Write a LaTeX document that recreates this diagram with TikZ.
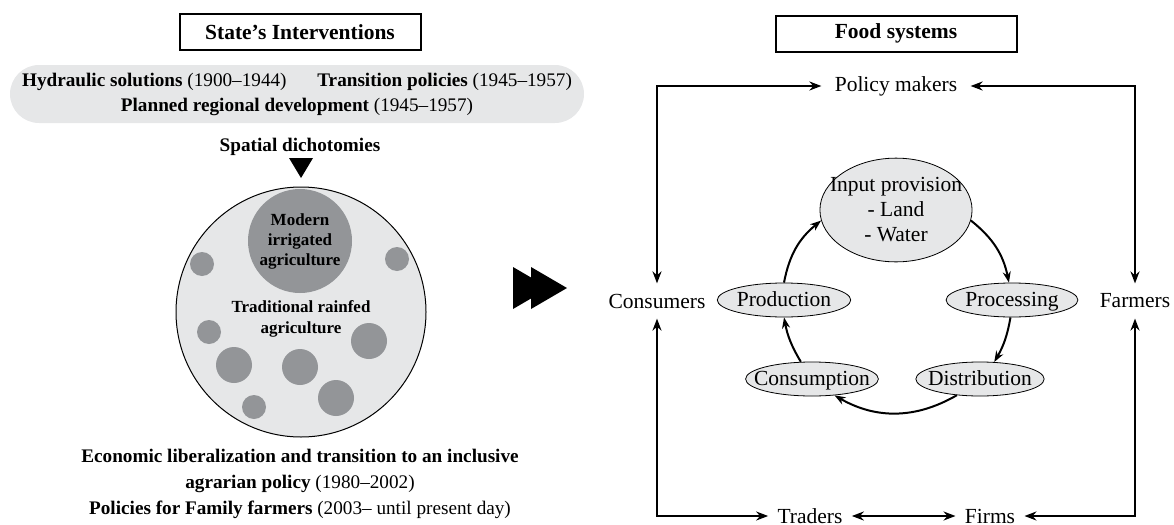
\documentclass[tikz,border=0pt]{standalone}
\usepackage{fontspec}
\setmainfont{Liberation Serif}
\usetikzlibrary{arrows.meta}
\usetikzlibrary{shapes.geometric}
\definecolor{paleg}{HTML}{E6E7E8}
\definecolor{midg}{HTML}{939598}

\begin{document}
\begin{tikzpicture}[x=0.5pt,y=-0.5pt,
  header/.style={draw, line width=1pt, minimum width=120.5pt, minimum height=18pt, inner sep=0pt, font=\bfseries\fontsize{10.75}{13}\selectfont},
  era/.style={fill=paleg, rounded corners=14.5pt, minimum width=287pt, minimum height=29pt, inner sep=0pt, align=center, font=\fontsize{9.6}{12.5}\selectfont},
  patch/.style={circle, fill=midg, inner sep=0pt, align=center, font=\bfseries\fontsize{8.5}{10}\selectfont},
  actor/.style={inner sep=4.5pt, font=\fontsize{10.75}{12.5}\selectfont},
  stage/.style={ellipse, draw, fill=paleg, line width=0.4pt, inner sep=0pt, minimum height=17pt, font=\fontsize{10.75}{12.5}\selectfont},
  oneline/.style={text height=7.3pt, text depth=1.3pt},
  link/.style={line width=1pt, {Stealth[length=6pt,width=4.5pt]}-{Stealth[length=6pt,width=4.5pt]}},
  flow/.style={line width=1pt, -{Stealth[length=5.5pt,width=4pt]}}]
\useasboundingbox (0,0) rectangle (1174,525);

% state's interventions
\node[header] (state) at (300,32) {State's Interventions};
\node[era] (eras) at (297,94) {\textbf{Hydraulic solutions} (1900--1944)\hspace{1.6em}\textbf{Transition policies} (1945--1957)\\
  \textbf{Planned regional development} (1945--1957)};
\node[font=\bfseries\fontsize{9.6}{12}\selectfont] (dich) at (300,147) {Spatial dichotomies};
\fill (289,158) -- (313,158) -- (301,178) -- cycle;
\node[circle, draw, fill=paleg, line width=0.5pt, minimum size=125pt] (land) at (301,312) {};
\node[patch, minimum size=52pt] (irrig) at (300,241) {Modern\\irrigated\\agriculture};
\foreach \px/\py/\d [count=\k] in {202/264/12pt, 397/259/12pt, 209/332/12pt, 234/365/18pt, 300/367/18pt, 369/341/18pt, 336/398/18pt, 254/407/12pt}
  \node[patch, minimum size=\d] (spot\k) at (\px,\py) {};
\node[align=center, font=\bfseries\fontsize{8.5}{10.5}\selectfont] (rainfed) at (301,319) {Traditional rainfed\\agriculture};
\node[align=center, font=\fontsize{9.6}{13}\selectfont] (reforms) at (300,484) {\textbf{Economic liberalization and transition to an inclusive}\\
  \textbf{agrarian policy} (1980--2002)\\
  \textbf{Policies for Family farmers} (2003-- until present day)};

\foreach \dx in {0,18}
  \fill (513+\dx,267) -- (549+\dx,288) -- (513+\dx,309) -- cycle;

% food systems
\node[header] (food) at (896,33.5) {Food systems};
\node[actor, inner xsep=6.5pt] (policy) at (896,86) {Policy makers};
\node[actor, inner ysep=5pt] (cons) at (657,301) {Consumers};
\node[actor, inner ysep=5pt] (farm) at (1135,301) {Farmers};
\node[actor] (trad) at (810,516) {Traders};
\node[actor] (firm) at (990,516) {Firms};

\draw[link] (cons.north) |- (policy.west);
\draw[link] (farm.north) |- (policy.east);
\draw[link] (cons.south) |- (trad.west);
\draw[link] (farm.south) |- (firm.east);
\draw[link] (trad) -- (firm);

\node[stage, inner xsep=-6.1pt, inner ysep=2.2pt, align=center] (input) at (896,210) {Input provision\\- Land\\- Water};
\node[stage, oneline] (prod) at (784,300) {Production};
\node[stage, oneline] (proc) at (1012,300) {Processing};
\node[stage, oneline, inner xsep=-3.3pt] (dist) at (980,379) {Distribution};
\node[stage, oneline, inner xsep=-5.5pt] (consu) at (812,379) {Consumption};

\draw[flow] (prod.north) to[bend left=20] (input.188);
\draw[flow] (input.-8) to[bend left=20] (proc.100);
\draw[flow] (proc.265) to[bend left=10] (dist.50);
\draw[flow] (dist.215) to[bend left=30] (consu.-36);
\draw[flow] (consu.123) to[bend left=10] (prod.south);
\end{tikzpicture}
\end{document}
